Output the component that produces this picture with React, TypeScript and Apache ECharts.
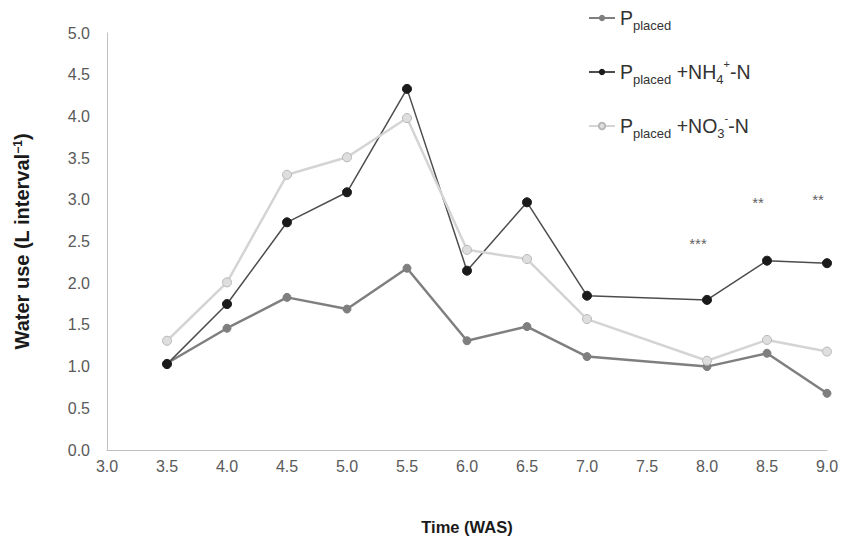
import React, { useEffect, useRef } from "react";
import * as echarts from "echarts";

const weeks = [3.5, 4.0, 4.5, 5.0, 5.5, 6.0, 6.5, 7.0, 8.0, 8.5, 9.0];
const pPlaced = [1.04, 1.46, 1.83, 1.69, 2.18, 1.31, 1.48, 1.12, 1.0, 1.16, 0.68];
const pNH4 = [1.03, 1.75, 2.73, 3.09, 4.33, 2.15, 2.97, 1.85, 1.8, 2.27, 2.24];
const pNO3 = [1.31, 2.01, 3.3, 3.51, 3.98, 2.4, 2.29, 1.57, 1.07, 1.32, 1.18];

const sigWeeks = [8.0, 8.5, 9.0];
const sigLevels = [2.48, 2.97, 3.0];
const sigMarks = ["***", "**", "**"];

const seriesNames = ["Pplaced", "Pplaced+NH4", "Pplaced+NO3"];
const legendLabels: Record<string, string> = {
  Pplaced: "{m|P}{s|placed}",
  "Pplaced+NH4": "{m|P}{s|placed}{m| +NH}{s|4}{p|+}{m|-N}",
  "Pplaced+NO3": "{m|P}{s|placed}{m| +NO}{s|3}{p|-}{m|-N}",
};

const pair = (ys: number[]) => weeks.map((w, i) => [w, ys[i]]);

export default function App() {
  const ref = useRef<HTMLDivElement>(null);
  useEffect(() => {
    if (!ref.current) return;
    const chart = echarts.init(ref.current, null, { renderer: "svg" });
    const font = "Liberation Sans, Arial, sans-serif";
    const tc = "#333333";
    chart.setOption({
      animation: false,
      backgroundColor: "#ffffff",
      textStyle: { fontFamily: font },
      grid: { left: 107, right: 16, top: 33, bottom: 91, containLabel: false },
      legend: {
        orient: "vertical",
        left: 583,
        top: 3,
        itemWidth: 26,
        itemHeight: 8,
        itemGap: 26,
        data: seriesNames,
        formatter: (n: string) => legendLabels[n],
        textStyle: {
          padding: [0, 0, 0, 0],
          rich: {
            m: { fontSize: 19.5, color: tc, fontFamily: font, lineHeight: 28, verticalAlign: "middle" },
            s: { fontSize: 13, color: tc, fontFamily: font, lineHeight: 14, verticalAlign: "bottom", padding: [10, 0, 0, 0] },
            p: { fontSize: 11, color: tc, fontFamily: font, lineHeight: 12, verticalAlign: "top", padding: [0, 0, 8, 0] },
          },
        },
      },
      xAxis: {
        type: "value",
        min: 3,
        max: 9,
        interval: 0.5,
        name: "Time (WAS)",
        nameLocation: "middle",
        nameGap: 68,
        nameTextStyle: { fontSize: 16.5, fontWeight: "bold", color: "#1a1a1a", fontFamily: font },
        axisLine: { show: true, lineStyle: { color: "#bfbfbf", width: 1 } },
        axisTick: { show: false },
        splitLine: { show: false },
        axisLabel: {
          color: "#595959",
          fontSize: 16,
          margin: 8,
          formatter: (v: number) => v.toFixed(1),
        },
      },
      yAxis: {
        type: "value",
        min: 0,
        max: 5,
        interval: 0.5,
        name: "Water use (L interval{sup|−1})",
        nameLocation: "middle",
        nameGap: 75,
        nameRotate: 90,
        nameTextStyle: {
          fontSize: 20,
          fontWeight: "bold",
          color: "#1a1a1a",
          fontFamily: font,
          rich: {
            sup: { fontSize: 12, fontWeight: "bold", color: "#1a1a1a", verticalAlign: "top", lineHeight: 12, padding: [0, 0, 8, 0] },
          },
        },
        axisLine: { show: true, lineStyle: { color: "#bfbfbf", width: 1 } },
        axisTick: { show: false },
        splitLine: { show: false },
        axisLabel: {
          color: "#595959",
          fontSize: 16,
          margin: 17,
          formatter: (v: number) => v.toFixed(1),
        },
      },
      series: [
        {
          name: seriesNames[0],
          type: "line",
          data: pair(pPlaced),
          symbol: "circle",
          symbolSize: 8,
          lineStyle: { color: "#7f7f7f", width: 2.5 },
          itemStyle: { color: "#7f7f7f", borderColor: "#7f7f7f" },
          z: 2,
        },
        {
          name: seriesNames[1],
          type: "line",
          data: pair(pNH4),
          symbol: "circle",
          symbolSize: 9,
          lineStyle: { color: "#4d4d4d", width: 1.5 },
          itemStyle: { color: "#1a1a1a", borderColor: "#1a1a1a" },
          z: 3,
        },
        {
          name: seriesNames[2],
          type: "line",
          data: pair(pNO3),
          symbol: "circle",
          symbolSize: 9,
          lineStyle: { color: "#d4d4d4", width: 2.5 },
          itemStyle: { color: "#dedede", borderColor: "#b8b8b8", borderWidth: 1 },
          z: 4,
        },
        {
          name: "sig",
          type: "scatter",
          data: sigWeeks.map((w, i) => ({ value: [w, sigLevels[i]], mark: sigMarks[i] })),
          symbolSize: 0,
          silent: true,
          label: {
            show: true,
            position: "inside",
            offset: [-9, 0],
            formatter: (p: any) => p.data.mark,
            color: "#333333",
            fontSize: 15,
            fontFamily: font,
          },
          z: 5,
        },
      ],
    });
    return () => chart.dispose();
  }, []);
  return <div ref={ref} style={{ position: "fixed", left: 0, top: 0, width: 843, height: 541 }} />;
}
